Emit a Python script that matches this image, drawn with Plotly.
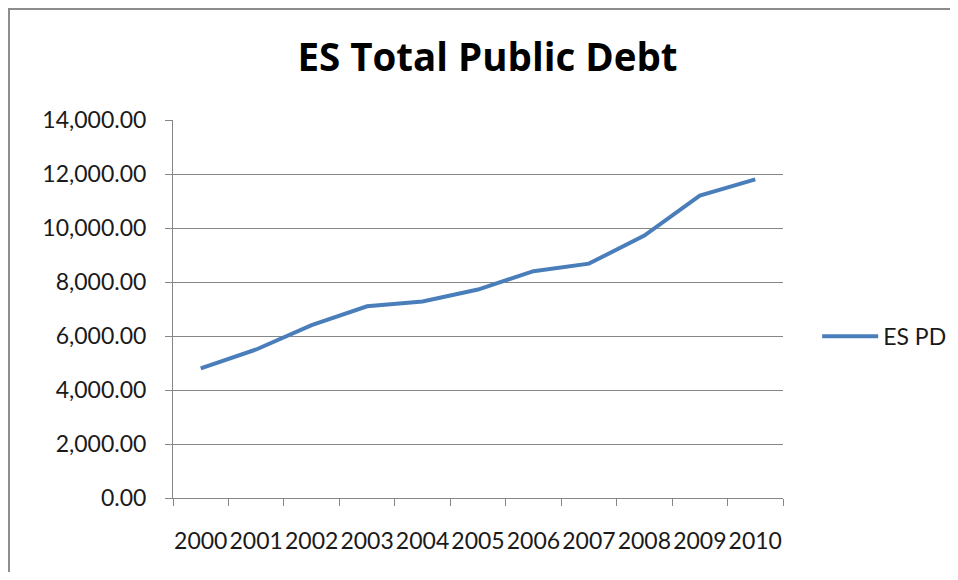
import plotly.graph_objects as go

years = ["2000", "2001", "2002", "2003", "2004", "2005", "2006", "2007", "2008", "2009", "2010"]
es_pd = [4800, 5500, 6400, 7100, 7280, 7720, 8400, 8680, 9720, 11200, 11800]
series_name = "ES PD"
title_text = "ES Total Public Debt"

fig = go.Figure()
fig.add_trace(go.Scatter(
    x=years, y=es_pd, mode="lines", name=series_name,
    line=dict(color="#4a7ebb", width=4),
))

axis_gray = "#868686"
fig.update_layout(
    width=942, height=564,
    margin=dict(l=165, r=167, t=112, b=74, autoexpand=False),
    paper_bgcolor="white", plot_bgcolor="white",
    font=dict(family="Lato", color="#1a1a1a", size=23),
    title=dict(text=title_text, x=0.509, xanchor="center", y=0.912, yanchor="middle",
               font=dict(family="Open Sans", size=38.5, color="black", weight="bold")),
    showlegend=True,
    legend=dict(xref="container", yref="container", x=0.859, xanchor="left",
                y=0.418, yanchor="middle",
                font=dict(size=23, family="Lato"), bgcolor="rgba(0,0,0,0)",
                itemwidth=56),
    xaxis=dict(type="category", range=[-0.5, len(years) - 0.5], showgrid=False, showline=True,
               linecolor=axis_gray, linewidth=1,
               ticks="outside", tickson="boundaries", ticklen=7, tickcolor=axis_gray,
               tickangle=0, tickfont=dict(size=23), ticklabelstandoff=22),
    yaxis=dict(range=[0, 14000], dtick=2000, tickformat=",.2f", showgrid=True,
               gridcolor=axis_gray, gridwidth=1, showline=True, linecolor=axis_gray,
               linewidth=1, ticks="outside", ticklen=7, tickcolor=axis_gray,
               tickfont=dict(size=23), ticklabelstandoff=14, zeroline=False),
    shapes=[
        dict(type="line", xref="paper", yref="paper", x0=-0.27, x1=1.3, y0=1.2937, y1=1.2937,
             line=dict(color="#8c8c8c", width=2)),
        dict(type="line", xref="paper", yref="paper", x0=-0.2689, x1=-0.2689, y0=1.2963, y1=-0.3,
             line=dict(color="#8c8c8c", width=2)),
    ],
)

fig.write_html("out.html")
